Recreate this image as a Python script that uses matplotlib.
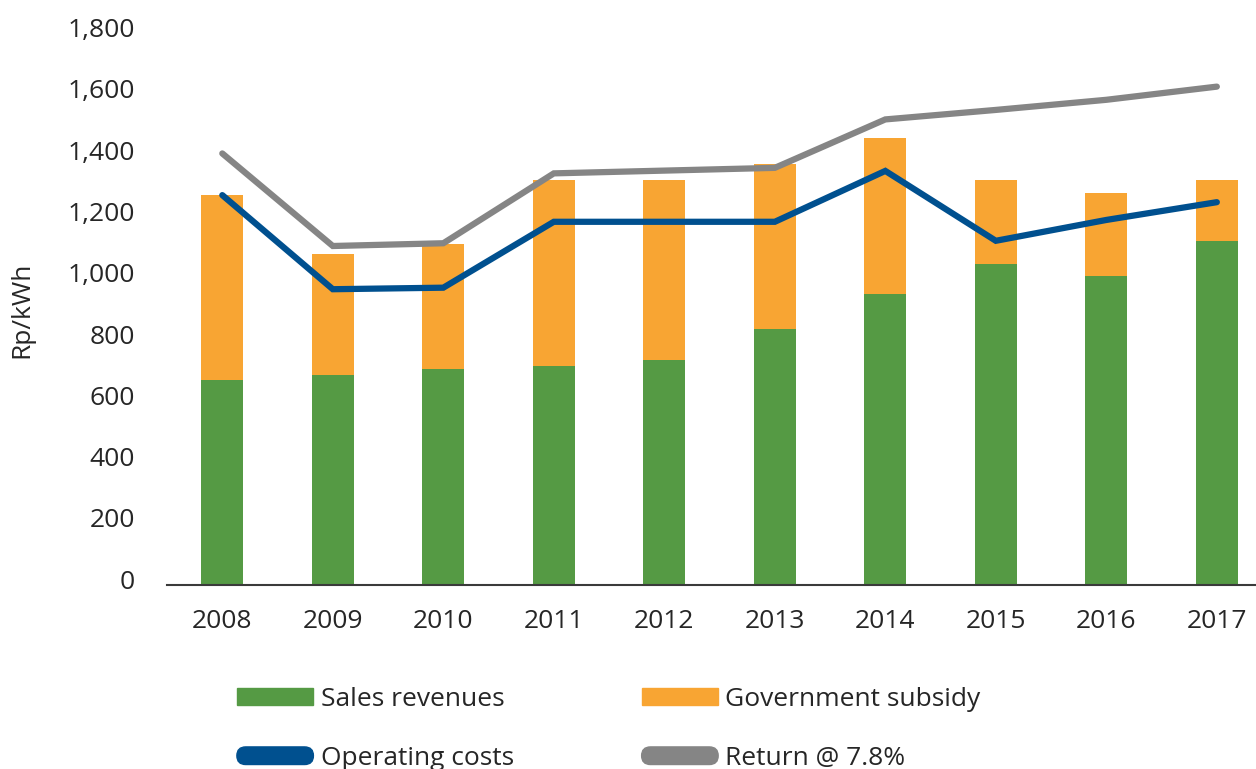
import matplotlib.pyplot as plt
from matplotlib.patches import Patch, FancyBboxPatch
from matplotlib.legend_handler import HandlerPatch
from matplotlib.transforms import ScaledTranslation

plt.rcParams['font.family'] = ['Open Sans', 'DejaVu Sans']

years = ['2008', '2009', '2010', '2011', '2012', '2013', '2014', '2015', '2016', '2017']
sales_revenues = [670, 686, 706, 716, 735, 836, 950, 1048, 1009, 1123]
total_revenue = [1273, 1081, 1113, 1322, 1322, 1375, 1460, 1322, 1280, 1322]
government_subsidy = [t - s for t, s in zip(total_revenue, sales_revenues)]
operating_costs = [1273, 966, 971, 1186, 1186, 1186, 1352, 1124, 1192, 1250]
return_78 = [1409, 1107, 1116, 1344, 1353, 1362, 1520, 1551, 1584, 1627]

green = '#559a44'
orange = '#f8a533'
blue = '#00508f'
grey = '#858585'
text_col = '#262626'

fig = plt.figure(figsize=(12.56, 7.69), dpi=100)
ax = fig.add_axes([0.133, 0.2389, 0.8798, 0.7174])

x = list(range(len(years)))
ax.bar(x, sales_revenues, width=0.38, color=green, zorder=2)
ax.bar(x, government_subsidy, width=0.38, bottom=sales_revenues, color=orange, zorder=2)
ax.plot(x, operating_costs, color=blue, lw=4.5, solid_capstyle='round',
        solid_joinstyle='miter', zorder=3)
ax.plot(x, return_78, color=grey, lw=4.5, solid_capstyle='round',
        solid_joinstyle='miter', zorder=3)

ax.set_xlim(-0.5, 9.5)
ax.set_ylim(0, 1800)
ax.set_yticks(range(0, 1801, 200))
ax.set_yticklabels([f'{v:,}' for v in range(0, 1801, 200)])
ax.set_xticks(x)
ax.set_xticklabels(years)
ax.tick_params(axis='both', length=0, labelsize=19, colors=text_col)
ax.tick_params(axis='y', pad=23)
ax.tick_params(axis='x', pad=17)
# value labels sit a little above their gridline positions
lift = ScaledTranslation(0, 6 / 100, fig.dpi_scale_trans)
for lbl in ax.get_yticklabels():
    lbl.set_transform(lbl.get_transform() + lift)
for side in ['top', 'right', 'left']:
    ax.spines[side].set_visible(False)
ax.spines['bottom'].set_color('#3a3a3a')
ax.spines['bottom'].set_linewidth(1.5)

ax.set_ylabel('Rp/kWh', fontsize=19, color=text_col, labelpad=24)


# rounded bar used as the legend key for the two line series
def pill(legend, orig_handle, xdescent, ydescent, width, height, fontsize):
    h = height * 1.05
    return FancyBboxPatch((-xdescent, -ydescent + (height - h) / 2), width, h,
                          boxstyle=f'round,pad=0,rounding_size={h / 2}')


line_ops = Patch(color=blue, label='Operating costs')
line_ret = Patch(color=grey, label='Return @ 7.8%')
handles = [
    Patch(color=green, label='Sales revenues'),
    line_ops,
    Patch(color=orange, label='Government subsidy'),
    line_ret,
]
fig.legend(handles=handles, ncol=2, loc='upper left', bbox_to_anchor=(0.1886, 0.107),
           frameon=False, fontsize=19, handlelength=2.9, handleheight=0.6,
           handletextpad=0.27, columnspacing=4.85, labelspacing=1.3,
           labelcolor=text_col, borderpad=0, borderaxespad=0,
           handler_map={line_ops: HandlerPatch(patch_func=pill),
                        line_ret: HandlerPatch(patch_func=pill)})

fig.savefig('out.png', dpi=100)
